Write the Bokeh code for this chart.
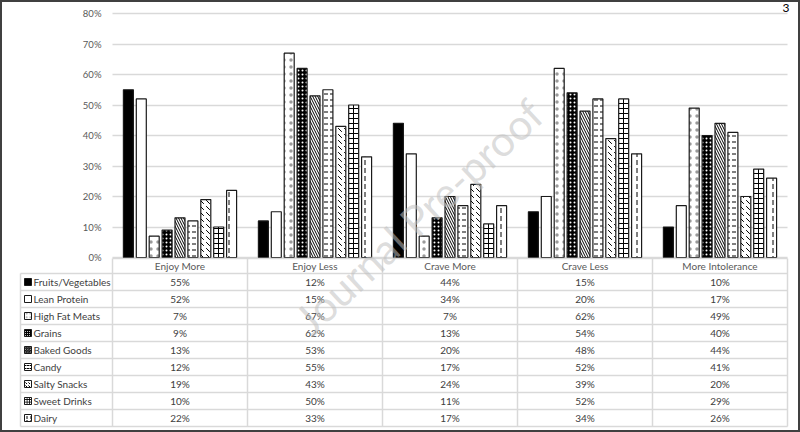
import math
from bokeh.plotting import figure
from bokeh.models import Range1d, LinearAxis, FixedTicker, Label, PrintfTickFormatter
from bokeh.core.properties import value
from bokeh.embed import file_html
from bokeh.resources import INLINE

# ---------------- data ----------------
categories = ["Enjoy More", "Enjoy Less", "Crave More", "Crave Less", "More Intolerance"]
series_names = ["Fruits/Vegetables", "Lean Protein", "High Fat Meats", "Grains", "Baked Goods",
                "Candy", "Salty Snacks", "Sweet Drinks", "Dairy"]
fruits_vegetables = [55, 12, 44, 15, 10]
lean_protein = [52, 15, 34, 20, 17]
high_fat_meats = [7, 67, 7, 62, 49]
grains = [9, 62, 13, 54, 40]
baked_goods = [13, 53, 20, 48, 44]
candy = [12, 55, 17, 52, 41]
salty_snacks = [19, 43, 24, 39, 20]
sweet_drinks = [10, 50, 11, 52, 29]
dairy = [22, 33, 17, 34, 26]
y_ticks = [0, 10, 20, 30, 40, 50, 60, 70, 80]

series_values = [fruits_vegetables, lean_protein, high_fat_meats, grains, baked_goods,
                 candy, salty_snacks, sweet_drinks, dairy]

# styles per series: (fill, hatch pattern, hatch color, hatch scale)
styles = [
    ("black", None, None, None),
    ("white", None, None, None),
    ("white", ".", "#9a9a9a", 7),
    ("black", ".", "white", 4),
    ("white", "\\", "black", 5),
    ("white", '"', "black", 6),
    ("white", "`", "black", 6),
    ("white", "+", "black", 5),
    ("white", ":", "black", 8),
]

# ---------------- layout constants (pixels) ----------------
W, H = 800, 432
X0PX = 112                # pixel of x = 0 (start of first category)
UNIT = 135                # pixels per category
Y0PX, Y80PX = 257, 13     # pixel of 0% and 80%
PPY = (Y0PX - Y80PX) / 80.0
ROWPX = 17.0              # table row height
TBOT = 426                # table bottom pixel
HEADPX = 15.0             # header row height

def xd(px):
    return (px - X0PX) / UNIT

def yd(py):
    return (Y0PX - py) / PPY

x_start, x_end = xd(0), xd(W)
y_start, y_end = yd(H), yd(0)

FONT = "Lato"

p = figure(width=W, height=H, output_backend="svg", toolbar_location=None,
           x_range=Range1d(x_start, x_end), y_range=Range1d(y_start, y_end),
           x_axis_location=None, y_axis_location=None,
           min_border_left=0, min_border_right=0, min_border_top=0, min_border_bottom=0)
p.outline_line_color = "#404040"
p.outline_line_width = 3
p.background_fill_color = "white"
p.border_fill_color = "white"
p.extra_y_ranges = {"tbl": Range1d(-(H - TBOT) / ROWPX, TBOT / ROWPX)}

p.xgrid.visible = False
p.ygrid.ticker = FixedTicker(ticks=y_ticks)
p.ygrid.grid_line_color = "#d9d9d9"
p.ygrid.grid_line_width = 1.3
use_seg_grid = False
try:
    p.ygrid.cross_bounds = (0, len(categories))
except Exception:
    use_seg_grid = True
if use_seg_grid:
    p.ygrid.visible = False
    p.segment(x0=[0] * len(y_ticks), x1=[len(categories)] * len(y_ticks), y0=y_ticks, y1=y_ticks,
              line_color="#d9d9d9", line_width=1.3)

yax = LinearAxis(fixed_location=0, ticker=FixedTicker(ticks=y_ticks),
                 formatter=PrintfTickFormatter(format="%d%%"))
yax.axis_line_color = None
yax.major_tick_line_color = None
yax.minor_tick_line_color = None
yax.major_tick_out = 0
yax.major_tick_in = 0
yax.minor_tick_out = 0
yax.major_label_standoff = 11
yax.major_label_text_font = FONT
yax.major_label_text_font_size = "9.5px"
yax.major_label_text_color = "#595959"
p.add_layout(yax, "left")

# ---------------- bars ----------------
pitch = 12.9 / UNIT
bw = 10.0 / UNIT
n = len(series_names)
for j, vals in enumerate(series_values):
    fill, hp, hc, hs = styles[j]
    xs = [i + 0.5 + (j - (n - 1) / 2) * pitch for i in range(len(categories))]
    kw = dict(x=xs, top=vals, bottom=0, width=bw, fill_color=fill,
              line_color="#1a1a1a", line_width=1.2)
    if hp:
        kw.update(hatch_pattern=hp, hatch_color=hc, hatch_scale=hs, hatch_weight=1)
    p.vbar(**kw)

# ---------------- table ----------------
TL = xd(20)
ncat = len(categories)
head_top = 9 + HEADPX / ROWPX
grid_c = "#d9d9d9"
lw = 1.5
# horizontal lines
p.segment(x0=[0], x1=[ncat], y0=[head_top], y1=[head_top], y_range_name="tbl",
          line_color=grid_c, line_width=lw)
p.segment(x0=[TL] * 10, x1=[ncat] * 10, y0=list(range(10)), y1=list(range(10)),
          y_range_name="tbl", line_color=grid_c, line_width=lw)
# vertical lines
p.segment(x0=list(range(ncat + 1)), x1=list(range(ncat + 1)), y0=[0] * (ncat + 1),
          y1=[head_top] * (ncat + 1), y_range_name="tbl", line_color=grid_c, line_width=lw)
p.segment(x0=[TL], x1=[TL], y0=[0], y1=[9], y_range_name="tbl", line_color=grid_c, line_width=lw)

# header
p.text(x=[i + 0.5 for i in range(ncat)], y=[9 + HEADPX / ROWPX / 2] * ncat, text=categories,
       y_range_name="tbl", text_align="center", text_baseline="middle", text_font=value(FONT),
       text_font_size="10px", text_color="#595959")

# cells
cx, cy, ct = [], [], []
for j, vals in enumerate(series_values):
    for i, v in enumerate(vals):
        cx.append(i + 0.5)
        cy.append(8.5 - j)
        ct.append(f"{v}%")
p.text(x=cx, y=cy, text=ct, y_range_name="tbl", text_align="center", text_baseline="middle",
       text_font=value(FONT), text_font_size="10px", text_color="#404040")

# legend labels
p.text(x=[xd(33)] * n, y=[8.5 - j for j in range(n)], text=series_names, y_range_name="tbl",
       text_align="left", text_baseline="middle", text_font=value(FONT),
       text_font_size="10px", text_color="#404040")
# legend keys
for j in range(n):
    fill, hp, hc, hs = styles[j]
    kw = dict(x=[xd(27.5)], y=[8.5 - j], width=7, height=7, width_units="screen",
              height_units="screen", fill_color=fill, line_color="#1a1a1a", line_width=1,
              y_range_name="tbl")
    if hp:
        kw.update(hatch_pattern=hp, hatch_color=hc, hatch_scale=max(2, hs / 2), hatch_weight=1)
    p.rect(**kw)

# watermark
wm = Label(x=xd(418), y=yd(216), text="Journal Pre-proof", angle=math.radians(43),
           text_align="center", text_baseline="middle", text_font=FONT, text_font_size="42px",
           text_color="#c0c0c0", text_alpha=0.55)
p.add_layout(wm)

# page number
pg = Label(x=xd(789), y=yd(3), text="3", text_align="right", text_baseline="top",
           text_font=FONT, text_font_size="12px", text_color="black")
p.add_layout(pg)

open("out.html", "w").write(file_html(p, INLINE))
